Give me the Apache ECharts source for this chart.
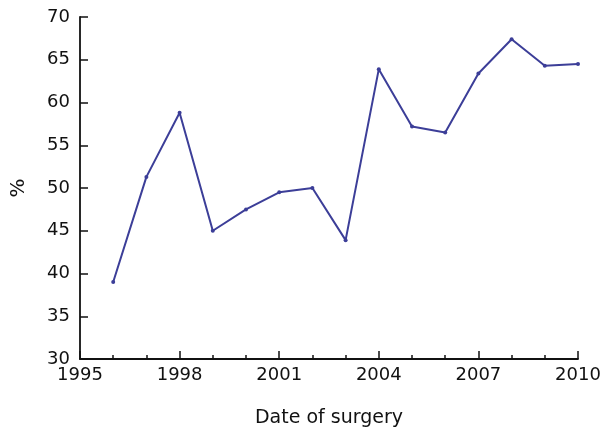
<!DOCTYPE html>
<html>
<head>
<meta charset="utf-8">
<script src="https://cdn.jsdelivr.net/npm/echarts@6/dist/echarts.min.js"></script>
<style>html,body{margin:0;padding:0;background:#fff}#c{width:616px;height:435px}</style>
</head>
<body>
<div id="c"></div>
<script>
const years = [1996, 1997, 1998, 1999, 2000, 2001, 2002, 2003, 2004, 2005, 2006, 2007, 2008, 2009, 2010];
const percent = [39.0, 51.3, 58.8, 45.0, 47.5, 49.5, 50.0, 43.9, 63.9, 57.2, 56.5, 63.4, 67.4, 64.3, 64.5];
const xTitle = 'Date of surgery';
const yTitle = '%';

const font = 'DejaVu Sans';
const axisColor = '#111';
const textColor = '#111';
const chart = echarts.init(document.getElementById('c'));
chart.setOption({
  animation: false,
  backgroundColor: '#fff',
  grid: { left: 80, right: 38, top: 17, bottom: 76, containLabel: false, outerBoundsMode: 'none' },
  xAxis: {
    type: 'value', min: 1995, max: 2010, interval: 3,
    name: xTitle, nameLocation: 'middle', nameGap: 50,
    nameTextStyle: { fontFamily: font, fontSize: 19, color: textColor },
    axisLine: { lineStyle: { color: axisColor, width: 1.8 } },
    axisTick: { show: true, inside: true, length: 8, lineStyle: { color: axisColor, width: 1.5 } },
    minorTick: { show: true, splitNumber: 3, length: 4, lineStyle: { color: axisColor, width: 1.5 } },
    axisLabel: { fontFamily: font, fontSize: 18, color: textColor, margin: 7, formatter: v => String(v) },
    splitLine: { show: false }
  },
  yAxis: {
    type: 'value', min: 30, max: 70, interval: 5,
    name: yTitle, nameLocation: 'middle', nameGap: 51, nameRotate: 90,
    nameTextStyle: { fontFamily: font, fontSize: 20, color: textColor },
    axisLine: { show: true, lineStyle: { color: axisColor, width: 1.8 } },
    axisTick: { show: true, inside: true, length: 8, lineStyle: { color: axisColor, width: 1.5 } },
    axisLabel: { fontFamily: font, fontSize: 18, color: textColor, margin: 10 },
    splitLine: { show: false }
  },
  series: [{
    type: 'line',
    data: years.map((y, i) => [y, percent[i]]),
    symbol: 'circle', symbolSize: 4,
    lineStyle: { color: '#3c3e98', width: 2 },
    itemStyle: { color: '#3c3e98' }
  }]
});
</script>
</body>
</html>
